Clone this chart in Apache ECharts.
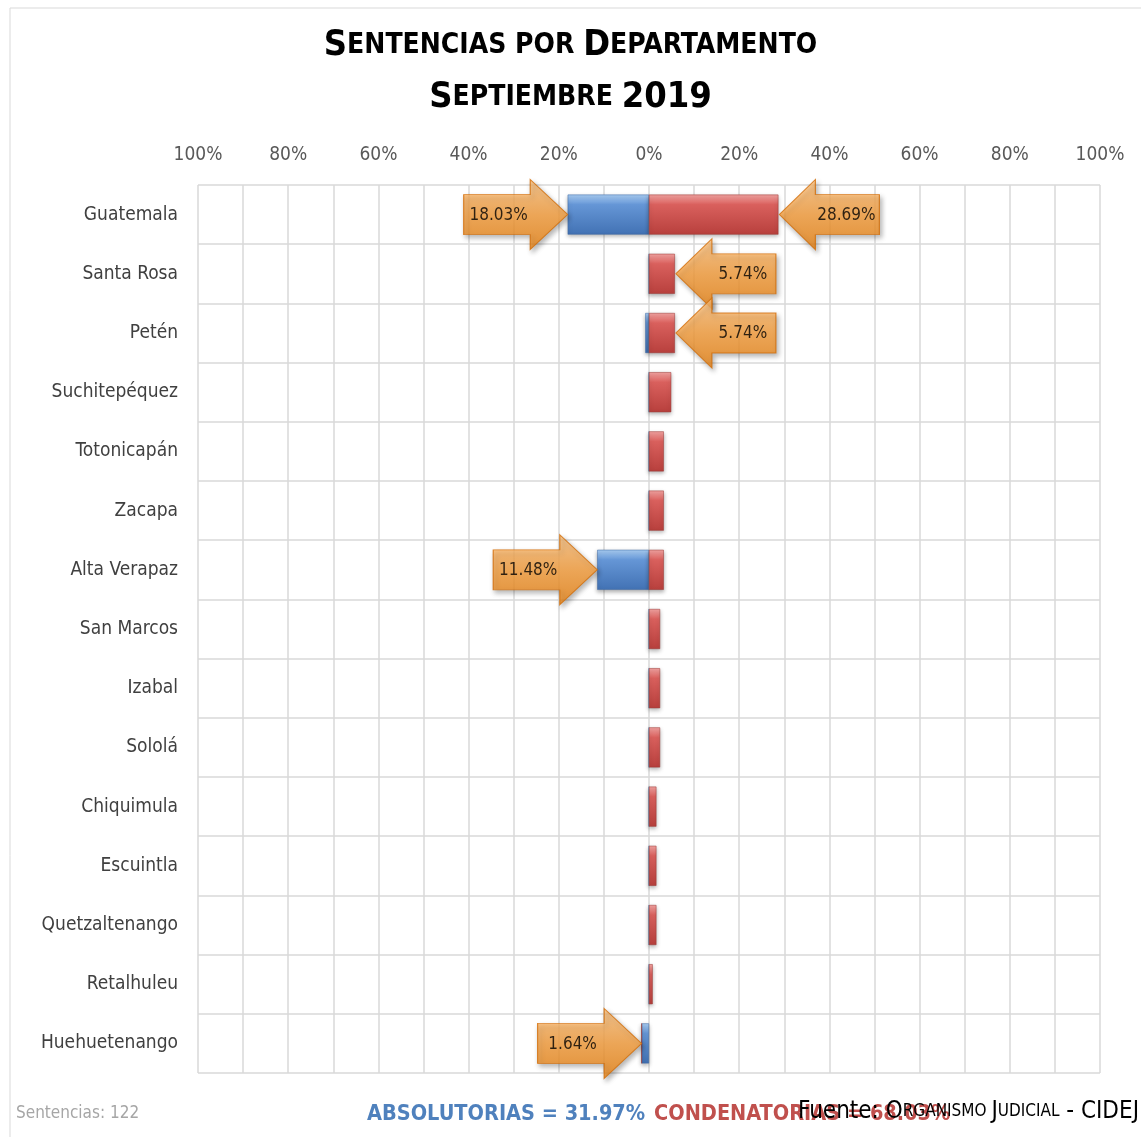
<!DOCTYPE html>
<html>
<head>
<meta charset="utf-8">
<script src="https://cdn.jsdelivr.net/npm/echarts@6/dist/echarts.min.js"></script>
<style>
  html, body { margin: 0; padding: 0; background: #fff; }
  #chart { width: 1141px; height: 1137px; }
</style>
</head>
<body>
<div id="chart"></div>
<script>
// departamentos, de arriba hacia abajo
const departamentos = ['Guatemala', 'Santa Rosa', 'Petén', 'Suchitepéquez', 'Totonicapán', 'Zacapa',
  'Alta Verapaz', 'San Marcos', 'Izabal', 'Sololá', 'Chiquimula', 'Escuintla', 'Quetzaltenango',
  'Retalhuleu', 'Huehuetenango'];
// porcentajes (sobre 122 sentencias)
const absolutorias = [18.03, 0, 0.82, 0, 0, 0, 11.48, 0, 0, 0, 0, 0, 0, 0, 1.64];
const condenatorias = [28.69, 5.74, 5.74, 4.92, 3.28, 3.28, 3.28, 2.46, 2.46, 2.46, 1.64, 1.64, 1.64, 0.82, 0];
const etiquetasAbs = ['Guatemala', 'Alta Verapaz', 'Huehuetenango'];
const etiquetasCond = ['Guatemala', 'Santa Rosa', 'Petén'];
const totalSentencias = 122;
const totalAbs = '31.97%';
const totalCond = '68.03%';
const ticksX = [-100, -80, -60, -40, -20, 0, 20, 40, 60, 80, 100];

const fuente = '"Liberation Sans Narrow", "DejaVu Sans Condensed", "Liberation Sans", sans-serif';

const flechaDer = 'path://M100,35 L64,0 L64,15 L0,15 L0,55 L64,55 L64,70 Z';
const flechaIzq = 'path://M0,35 L36,0 L36,15 L100,15 L100,55 L36,55 L36,70 Z';

const naranja = {
  type: 'linear', x: 0, y: 0, x2: 0, y2: 1,
  colorStops: [{ offset: 0, color: '#fdc27f' }, { offset: 0.5, color: '#f9a13f' }, { offset: 1, color: '#ea8414' }]
};
const rojo = {
  type: 'linear', x: 0, y: 0, x2: 0, y2: 1,
  colorStops: [{ offset: 0, color: '#f2a3a1' }, { offset: 0.25, color: '#d9605d' }, { offset: 1, color: '#b8403d' }]
};
const azul = {
  type: 'linear', x: 0, y: 0, x2: 0, y2: 1,
  colorStops: [{ offset: 0, color: '#a9cdf3' }, { offset: 0.25, color: '#6596d6' }, { offset: 1, color: '#4272b4' }]
};

const datosAbs = etiquetasAbs.map(d => {
  const i = departamentos.indexOf(d);
  return [-absolutorias[i], d, absolutorias[i]];
});
const datosCond = etiquetasCond.map(d => {
  const i = departamentos.indexOf(d);
  return [condenatorias[i], d, condenatorias[i]];
});

const chart = echarts.init(document.getElementById('chart'));

chart.setOption({
  backgroundColor: '#fff',
  animation: false,
  title: [{
    left: 'center', top: 15,
    text: '{a|S}{b|ENTENCIAS POR }{a|D}{b|EPARTAMENTO}\n{a|S}{b|EPTIEMBRE }{a|2019}',
    textStyle: {
      rich: {
        a: { fontFamily: fuente, fontSize: 36, fontWeight: 'bold', color: '#000', lineHeight: 52 },
        b: { fontFamily: fuente, fontSize: 28, fontWeight: 'bold', color: '#000', lineHeight: 52 }
      }
    }
  }],
  grid: { left: 198, right: 41, top: 185, bottom: 64 },
  xAxis: {
    type: 'value', position: 'top', min: -100, max: 100, interval: 10,
    axisLine: { show: false }, axisTick: { show: false },
    axisLabel: {
      margin: 20, color: '#595959', fontSize: 19, fontFamily: fuente,
      formatter: v => ticksX.indexOf(v) >= 0 ? Math.abs(v) + '%' : ''
    },
    splitLine: { show: true, lineStyle: { color: '#d9d9d9', width: 1.5 } }
  },
  yAxis: {
    type: 'category', data: departamentos, inverse: true,
    axisLine: { show: false }, axisTick: { show: false },
    axisLabel: { margin: 20, color: '#404040', fontSize: 19, fontFamily: fuente },
    splitLine: { show: true, lineStyle: { color: '#d9d9d9', width: 1.5 } }
  },
  series: [
    {
      name: 'Absolutorias', type: 'bar', stack: 'total', barWidth: 40,
      data: absolutorias.map(v => -v),
      itemStyle: { color: azul, borderColor: '#3a67a3', borderWidth: 0.5, shadowColor: 'rgba(0,0,0,0.3)', shadowBlur: 4, shadowOffsetY: 2 }
    },
    {
      name: 'Condenatorias', type: 'bar', stack: 'total', barWidth: 40,
      data: condenatorias,
      itemStyle: { color: rojo, borderColor: '#9b3431', borderWidth: 0.5, shadowColor: 'rgba(0,0,0,0.3)', shadowBlur: 4, shadowOffsetY: 2 }
    },
    {
      type: 'scatter', clip: false, z: 5,
      symbol: flechaDer, symbolSize: [104, 70], symbolOffset: [-52, 0],
      data: datosAbs,
      itemStyle: { color: naranja, borderColor: '#d26d08', borderWidth: 1, shadowColor: 'rgba(0,0,0,0.35)', shadowBlur: 5, shadowOffsetX: 2, shadowOffsetY: 3 },
      label: {
        show: true, position: 'inside', offset: [-17, 1], color: '#000', fontSize: 17, fontFamily: fuente,
        formatter: p => p.value[2].toFixed(2) + '%'
      }
    },
    {
      type: 'scatter', clip: false, z: 5,
      symbol: flechaIzq, symbolSize: [100, 70], symbolOffset: [51, 0],
      data: datosCond,
      itemStyle: { color: naranja, borderColor: '#d26d08', borderWidth: 1, shadowColor: 'rgba(0,0,0,0.35)', shadowBlur: 5, shadowOffsetX: 2, shadowOffsetY: 3 },
      label: {
        show: true, position: 'inside', offset: [17, 1], color: '#000', fontSize: 17, fontFamily: fuente,
        formatter: p => p.value[2].toFixed(2) + '%'
      }
    }
  ],
  graphic: [
    { type: 'rect', shape: { x: 10, y: 8, width: 1140, height: 1140 }, style: { fill: 'none', stroke: '#d9d9d9', lineWidth: 1 }, silent: true },
    { type: 'text', left: 16, top: 1105, style: { text: 'Sentencias: ' + totalSentencias, fill: '#a6a6a6', fontSize: 17, fontFamily: fuente } },
    { type: 'text', left: 367, top: 1103, style: { text: 'ABSOLUTORIAS = ' + totalAbs, fill: '#4f81bd', fontSize: 21.5, fontWeight: 'bold', fontFamily: fuente } },
    { type: 'text', left: 654, top: 1103, style: { text: 'CONDENATORIAS = ' + totalCond, fill: '#c0504d', fontSize: 21.5, fontWeight: 'bold', fontFamily: fuente } },
    { type: 'text', right: 2, top: 1100, z: 10, style: {
      text: '{a|Fuente: O}{b|RGANISMO }{a|J}{b|UDICIAL}{a| - CIDEJ}',
      rich: {
        a: { fill: '#000', fontSize: 24, fontFamily: fuente },
        b: { fill: '#000', fontSize: 17, fontFamily: fuente }
      }
    } }
  ]
});
</script>
</body>
</html>
